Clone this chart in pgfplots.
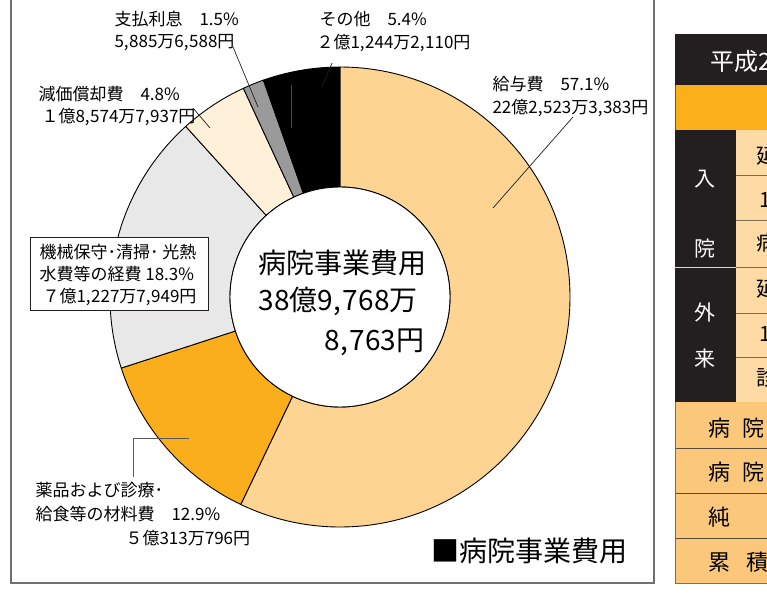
\documentclass[border=0pt]{standalone}
\usepackage{fontspec}
\setmainfont{Noto Sans CJK JP}
\usepackage{pgfplots}
\pgfplotsset{compat=1.18}
\usepackage{pgfplotstable}
\definecolor{txt}{HTML}{231F20}
\definecolor{cKyuyo}{HTML}{FDD491}
\definecolor{cYaku}{HTML}{FAAE1B}
\definecolor{cKikai}{HTML}{E8E8E8}
\definecolor{cGenka}{HTML}{FEF0D9}
\definecolor{cShi}{HTML}{9A9A9A}
\definecolor{cSono}{HTML}{000000}
\definecolor{tLight}{HTML}{FEDBA4}
\definecolor{tOrange}{HTML}{FBB01B}
\definecolor{tBottom}{HTML}{FBC77B}
\definecolor{tLine}{HTML}{7E6C52}
\definecolor{frame}{HTML}{707070}
\newcommand\cm{,\kern0.5pt}
\pgfplotstableread{
item value
kyuyo 57.1
yakuhin 12.9
kikai 18.3
genka 4.8
shiharai 1.5
sonota 5.4
}\piedata
\pgfplotstablegetelem{0}{value}\of\piedata \let\vA\pgfplotsretval
\pgfplotstablegetelem{1}{value}\of\piedata \let\vB\pgfplotsretval
\pgfplotstablegetelem{2}{value}\of\piedata \let\vC\pgfplotsretval
\pgfplotstablegetelem{3}{value}\of\piedata \let\vD\pgfplotsretval
\pgfplotstablegetelem{4}{value}\of\piedata \let\vE\pgfplotsretval
\pgfplotstablegetelem{5}{value}\of\piedata \let\vF\pgfplotsretval
\pgfmathsetmacro\aA{90}
\pgfmathsetmacro\aB{\aA-3.6*\vA}
\pgfmathsetmacro\aC{\aB-3.6*\vB}
\pgfmathsetmacro\aD{\aC-3.6*\vC}
\pgfmathsetmacro\aE{\aD-3.6*\vD}
\pgfmathsetmacro\aF{\aE-3.6*\vE}
\pgfmathsetmacro\aG{\aF-3.6*\vF}
\newcommand\slice[3]{%
  \fill[#3,draw=black,line width=0.9pt,line join=round]
    ({340+110*cos(#1)},{297-110*sin(#1)}) -- ({340+230*cos(#1)},{297-230*sin(#1)})
    arc[start angle=#1,end angle=#2,radius=230pt]
    -- ({340+110*cos(#2)},{297-110*sin(#2)})
    arc[start angle=#2,end angle=#1,radius=110pt] -- cycle;}
\begin{document}%
\begin{tikzpicture}
\begin{axis}[x=1pt,y=1pt,xmin=0,xmax=767,ymin=0,ymax=594,y dir=reverse,
  axis line style={draw=none},ticks=none,clip=true,
  every node/.style={inner sep=0pt,text=txt}]
\coordinate (bl) at (0,594);
\coordinate (tr) at (767,0);
% frame
\draw[frame,line width=1.3pt] (11,-10) -- (11,583) -- (654,583) -- (654,-10);
% donut
\slice{\aA}{\aB}{cKyuyo}
\slice{\aB}{\aC}{cYaku}
\slice{\aC}{\aD}{cKikai}
\slice{\aD}{\aE}{cGenka}
\slice{\aE}{\aF}{cShi}
\slice{\aF}{\aG}{cSono}
\draw[black,line width=0.9pt,fill=white] (340,297) circle[radius=110pt];
% leader lines
\draw[txt,line width=0.7pt] (233,47) -- (258,107);
\draw[txt,line width=0.7pt] (332,63) -- (322,87);
\draw[gray!60!black,line width=0.7pt] (291,85) -- (291,128);
\draw[txt,line width=0.7pt] (193,108) -- (210,128);
\draw[txt,line width=0.7pt] (573,117) -- (493,208);
\draw[gray!70!black,line width=0.8pt] (133,477) -- (133,438) -- (189,438);
% labels
\node[anchor=west,font=\fontsize{17}{20}\selectfont] at (111,19) {支払利息　1.5\%};
\node[anchor=west,font=\fontsize{17}{20}\selectfont] at (111,43) {5\cm 885万6\cm 588円};
\node[anchor=west,font=\fontsize{17}{20}\selectfont] at (316,19) {その他　5.4\%};
\node[anchor=west,font=\fontsize{17}{20}\selectfont] at (313,43) {２億1\cm 244万2\cm 110円};
\node[anchor=west,font=\fontsize{17}{20}\selectfont] at (35,94) {減価償却費　4.8\%};
\node[anchor=west,font=\fontsize{17}{20}\selectfont] at (38,117) {１億8\cm 574万7\cm 937円};
\node[anchor=west,font=\fontsize{17}{20}\selectfont] at (489,84) {給与費　57.1\%};
\node[anchor=west,font=\fontsize{17}{20}\selectfont] at (489,108) {22億2\cm 523万3\cm 383円};
\draw[txt,line width=0.8pt,fill=white] (30,237) rectangle (208,310);
\node[anchor=west,font=\fontsize{17}{20}\selectfont] at (36,252) {機械保守･清掃･ 光熱};
\node[anchor=west,font=\fontsize{17}{20}\selectfont] at (36,274) {水費等の経費 18.3\%};
\node[anchor=east,font=\fontsize{17}{20}\selectfont] at (200,297) {７億1\cm 227万7\cm 949円};
\node[anchor=west,font=\fontsize{17}{20}\selectfont] at (32,490) {薬品および診療･};
\node[anchor=west,font=\fontsize{17}{20}\selectfont] at (32,514) {給食等の材料費　12.9\%};
\node[anchor=west,font=\fontsize{17}{20}\selectfont] at (122,538) {５億313万796円};
% centre
\node[anchor=west,font=\fontsize{28}{32}\selectfont] at (255,263) {病院事業費用};
\node[anchor=west,font=\fontsize{28}{32}\selectfont] at (255,301) {38億9,\kern2pt 768万};
\node[anchor=east,font=\fontsize{28}{32}\selectfont] at (428,342) {8,\kern2pt 763円};
\node[anchor=west,font=\fontsize{28}{32}\selectfont] at (428,551) {■病院事業費用};
% table
\fill[txt] (675,34) rectangle (800,85);
\fill[tOrange] (675,85) rectangle (800,130);
\draw[tLine!80!black,line width=1pt] (675,85) -- (675,130);
\fill[txt] (675,130) rectangle (736,402);
\draw[white!85!black,line width=0.8pt] (675,267) -- (736,267);
\fill[tLight] (736,130) rectangle (800,402);
\draw[tLine,line width=0.8pt] (736,175) -- (800,175);
\draw[tLine,line width=0.8pt] (736,220) -- (800,220);
\draw[tLine,line width=0.8pt] (736,267) -- (800,267);
\draw[tLine,line width=0.8pt] (736,313) -- (800,313);
\draw[tLine,line width=0.8pt] (736,357) -- (800,357);
\fill[tBottom] (675,402) rectangle (800,583);
\draw[tLine!70!black,line width=0.8pt] (675,448) -- (800,448);
\draw[tLine!70!black,line width=0.8pt] (675,493) -- (800,493);
\draw[tLine!70!black,line width=0.8pt] (675,538) -- (800,538);
\draw[tLine,line width=1pt] (675,402) -- (675,583) -- (800,583);
\node[anchor=west,text=white,font=\fontsize{24}{28}\selectfont] at (707,61) {平成29年度};
\node[text=white,font=\fontsize{21}{24}\selectfont] at (705,179) {入};
\node[text=white,font=\fontsize{21}{24}\selectfont] at (705,249) {院};
\node[text=white,font=\fontsize{21}{24}\selectfont] at (705,312) {外};
\node[text=white,font=\fontsize{21}{24}\selectfont] at (705,359) {来};
\node[anchor=west,font=\fontsize{21}{24}\selectfont] at (753,156) {延};
\node[anchor=west,font=\fontsize{21}{24}\selectfont] at (756,200) {1};
\node[anchor=west,font=\fontsize{21}{24}\selectfont] at (753,243) {病};
\node[anchor=west,font=\fontsize{21}{24}\selectfont] at (753,289) {延};
\node[anchor=west,font=\fontsize{21}{24}\selectfont] at (756,334) {1};
\node[anchor=west,font=\fontsize{21}{24}\selectfont] at (753,378) {診};
\node[anchor=west,font=\fontsize{22}{24}\selectfont] at (705,428) {病\kern12pt 院};
\node[anchor=west,font=\fontsize{22}{24}\selectfont] at (705,472) {病\kern12pt 院};
\node[anchor=west,font=\fontsize{22}{24}\selectfont] at (705,517) {純};
\node[anchor=west,font=\fontsize{22}{24}\selectfont] at (705,562) {累\kern16pt 積};
\end{axis}
\pgfresetboundingbox
\path[use as bounding box] (bl) rectangle (tr);
\end{tikzpicture}%
\end{document}
